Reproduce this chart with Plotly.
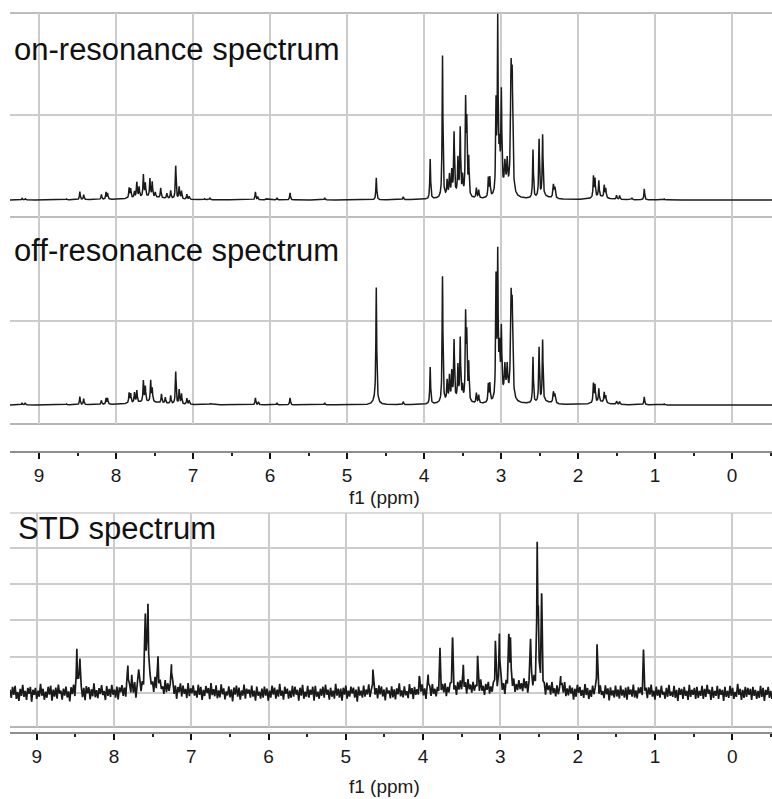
import numpy as np
import plotly.graph_objects as go

W, H = 772, 799
FONT = "Liberation Sans, Arial, sans-serif"

# ---------------- data ----------------
# on-resonance spectrum: peak positions (ppm), heights (px units above baseline), half-widths (ppm)
on_ppm = [9.22, 9.18, 8.64, 8.47, 8.42, 8.19, 8.13, 8.11, 7.83, 7.81,
          7.76, 7.73, 7.70, 7.645, 7.62, 7.56, 7.53, 7.49, 7.42, 7.34,
          7.29, 7.225, 7.18, 7.15, 7.08, 7.05, 6.85, 6.78, 6.19, 6.16,
          6.05, 5.91, 5.74, 5.29, 4.62, 4.27, 3.92, 3.76, 3.70, 3.67,
          3.64, 3.61, 3.56, 3.53, 3.50, 3.46, 3.445, 3.42, 3.32, 3.29,
          3.165, 3.145, 3.065, 3.043, 3.02, 2.996, 2.95, 2.92, 2.87, 2.855,
          2.585, 2.506, 2.46, 2.32, 2.30, 1.80, 1.78, 1.73, 1.66, 1.64,
          1.50, 1.46, 1.30, 1.14, 0.88,
          7.60, 3.60, 2.95, 2.45, 1.72]
on_height = [1.5, 1.5, 1, 8, 5, 5, 7, 6, 10, 9,
             6, 15, 10, 22, 13, 18, 15, 5, 10, 5,
             8, 33, 12, 8, 5, 3, 1, 1.5, 8, 3,
             1, 2, 7, 2, 22, 3, 40, 142, 15, 20,
             23, 61, 35, 66, 18, 91, 68, 37, 10, 8,
             19, 19, 87, 169, 40, 97, 25, 28, 108, 100,
             48, 57, 61, 13, 10, 21, 18, 16, 12, 9,
             4, 4, 2, 11, 1,
             3, 5, 8, 3, 3]
on_width = [0.006, 0.006, 0.006, 0.006, 0.006, 0.006, 0.006, 0.006, 0.006, 0.006,
            0.006, 0.006, 0.006, 0.006, 0.006, 0.006, 0.006, 0.006, 0.006, 0.006,
            0.006, 0.006, 0.006, 0.006, 0.006, 0.006, 0.006, 0.006, 0.006, 0.006,
            0.006, 0.006, 0.006, 0.006, 0.006, 0.006, 0.006, 0.006, 0.006, 0.006,
            0.006, 0.006, 0.006, 0.006, 0.006, 0.006, 0.006, 0.006, 0.006, 0.006,
            0.006, 0.006, 0.006, 0.006, 0.008, 0.007, 0.008, 0.008, 0.009, 0.009,
            0.006, 0.006, 0.006, 0.008, 0.008, 0.006, 0.006, 0.006, 0.006, 0.006,
            0.006, 0.006, 0.006, 0.006, 0.006,
            0.25, 0.12, 0.08, 0.10, 0.10]

# off-resonance spectrum
off_ppm = [9.22, 9.18, 8.64, 8.47, 8.42, 8.19, 8.13, 8.11, 7.83, 7.81,
           7.76, 7.73, 7.645, 7.62, 7.55, 7.53, 7.41, 7.36, 7.29, 7.225,
           7.18, 7.15, 7.08, 7.05, 6.78, 6.19, 6.15, 5.91, 5.74, 5.29,
           4.62, 4.27, 3.92, 3.76, 3.70, 3.67, 3.64, 3.61, 3.56, 3.53,
           3.50, 3.46, 3.445, 3.42, 3.32, 3.29, 3.165, 3.145, 3.065, 3.043,
           3.02, 2.996, 2.95, 2.92, 2.87, 2.855, 2.585, 2.506, 2.46, 2.32,
           2.30, 1.80, 1.78, 1.73, 1.66, 1.64, 1.50, 1.46, 1.14, 0.88,
           4.63, 7.60, 3.60, 2.95, 2.45, 1.72]
off_height = [2, 2, 1, 8, 6, 4, 6, 6, 10, 9,
              10, 12, 21, 15, 21, 13, 9, 6, 8, 32,
              14, 10, 6, 4, 1, 7, 3, 2, 7, 2,
              112, 3, 37, 126, 20, 24, 27, 58, 33, 61,
              13, 83, 61, 37, 10, 8, 18, 18, 118, 139,
              45, 65, 28, 28, 89, 80, 46, 54, 61, 11,
              8, 19, 17, 13, 10, 7, 3, 3, 8, 1,
              6, 3, 5, 8, 3, 3]
off_width = [0.006, 0.006, 0.006, 0.006, 0.006, 0.006, 0.006, 0.006, 0.006, 0.006,
             0.006, 0.006, 0.006, 0.006, 0.006, 0.006, 0.006, 0.006, 0.006, 0.006,
             0.006, 0.006, 0.006, 0.006, 0.006, 0.006, 0.006, 0.006, 0.006, 0.006,
             0.006, 0.006, 0.006, 0.006, 0.006, 0.006, 0.006, 0.006, 0.006, 0.006,
             0.006, 0.006, 0.006, 0.006, 0.006, 0.006, 0.006, 0.006, 0.006, 0.006,
             0.008, 0.007, 0.008, 0.008, 0.009, 0.009, 0.006, 0.006, 0.006, 0.008,
             0.008, 0.006, 0.006, 0.006, 0.006, 0.006, 0.006, 0.006, 0.006, 0.006,
             0.03, 0.25, 0.12, 0.08, 0.10, 0.10]

# STD spectrum
std_ppm = [8.48, 8.44, 7.82, 7.77, 7.68, 7.594, 7.56, 7.43, 7.256, 4.65,
           4.05, 3.935, 3.78, 3.62, 3.48, 3.295, 3.065, 3.013, 2.89, 2.87,
           2.61, 2.524, 2.51, 2.467, 2.22, 1.75, 1.15,
           7.45, 3.50, 2.75]
std_height = [43, 33, 25, 15, 19, 70, 80, 31, 25, 23,
              16, 17, 38, 51, 22, 33, 47, 54, 49, 45,
              47, 136, 60, 93, 15, 48, 40,
              5, 5, 7]
std_width = [0.006, 0.006, 0.006, 0.006, 0.006, 0.009, 0.009, 0.007, 0.006, 0.006,
             0.006, 0.006, 0.006, 0.006, 0.006, 0.006, 0.006, 0.006, 0.006, 0.006,
             0.006, 0.006, 0.006, 0.006, 0.006, 0.006, 0.006,
             0.30, 0.20, 0.30]
# baseline noise of the STD spectrum (px units), left to right
std_noise = [
    3, -5, 6, -2, 7, -6, 1, -8, 4, -3, 8, -4, 2, -7, 5, -1, 6, -9, 3, -2,
    5, -6, 2, -4, 9, -3, 4, -7, 1, -5, 6, -2, 7, -8, 3, -4, 5, -6, 8, -1,
    2, -7, 4, -3, 6, -5, 1, -9, 5, -2, 7, -6, 3, -4, 8, -3, 2, -6, 4, -8,
    6, -1, 5, -7, 3, -4, 9, -5, 2, -6, 4, -2, 7, -3, 1, -8, 6, -4, 3, -5,
    7, -3, 2, -6, 5, -8, 4, -1, 6, -5, 3, -7, 8, -2, 4, -6, 1, -4, 7, -9,
    4, -2, 6, -5, 3, -7, 7, -3, 2, -8, 5, -1, 4, -6, 9, -4, 3, -5, 6, -2,
    1, -6, 8, -4, 5, -3, 2, -7, 6, -5, 4, -9, 3, -2, 7, -6, 5, -3, 2, -7,
    8, -5, 3, -2, 6, -4, 1, -6, 7, -3, 5, -8, 2, -4, 6, -1, 4, -7, 9, -3,
    3, -4, 7, -6, 2, -5, 8, -2, 4, -7, 1, -3, 6, -5, 3, -9, 5, -2, 7, -4,
    5, -7, 2, -3, 8, -6, 4, -1, 3, -5, 7, -4, 2, -8, 6, -3, 1, -6, 4, -5,
    6, -3, 4, -8, 2, -5, 7, -2, 5, -6, 3, -4, 9, -3, 2, -7, 6, -1, 4, -6,
    2, -5, 7, -4, 6, -2, 3, -8, 5, -3, 8, -6, 1, -4, 7, -5, 3, -2, 6, -8,
    7, -4, 1, -6, 4, -3, 6, -5, 8, -2, 3, -7, 5, -4, 2, -6, 9, -3, 4, -5,
    4, -8, 5, -2, 7, -6, 2, -4, 6, -1, 5, -5, 3, -9, 6, -3, 2, -5, 7, -4,
    3, -2, 8, -5, 1, -7, 5, -3, 4, -6, 7, -2, 6, -4, 3, -8, 5, -1, 2, -6,
    6, -5, 3, -7, 4, -2, 9, -4, 2, -5, 6, -3, 1, -6, 8, -2, 4, -7, 5, -3,
    2, -6, 5, -1, 7, -4, 3, -8, 6, -2, 4, -5, 7, -3, 2, -6, 3, -4, 8, -5,
    5, -3, 6, -7, 2, -4, 4, -2, 7, -6, 1, -8, 5, -3, 6, -4, 2, -5, 4, -7,
    8, -2, 3, -5, 6, -3, 2, -7, 4, -4, 9, -2, 3, -6, 5, -1, 7, -5, 2, -4,
    4, -6, 7, -3, 1, -5, 6, -4, 3, -8, 5, -2, 8, -5, 4, -3, 6, -7, 1, -5,
    5, -4, 2, -6, 7, -3, 4, -8, 1, -5, 6, -2, 8, -4, 3, -6, 5, -3, 7, -2,
    3, -7, 6, -1, 4, -5, 8, -3, 2, -6, 5, -4, 1, -7, 6, -2, 9, -5, 3, -4,
    6, -2, 4, -8, 3, -5, 7, -1, 5, -4, 2, -6, 8, -3, 4, -7, 2, -5, 6, -3,
    2, -5, 8, -4, 6, -3, 1, -6, 7, -2, 4, -8, 5, -3, 2, -5, 7, -4, 3, -6,
    7, -3, 3, -5, 5, -7, 6, -2, 3, -4, 8, -5, 2, -6, 5, -1, 4, -8, 6, -2,
    4, -6, 5, -2, 8, -4, 2, -7, 6, -3, 3, -5, 7, -2, 1, -6, 5, -4, 8, -3,
    1, -4, 7, -5, 3, -8, 5, -2, 4, -6, 6, -3, 2, -7, 8, -4, 3, -2, 5, -6,
    6, -5, 2, -3, 7, -6, 4, -4, 8, -1, 3, -7, 6, -5, 2, -3, 7, -6, 4, -2,
    3, -8, 6, -4, 2, -5, 7, -3, 5, -6, 1, -4, 9, -2, 4, -7, 3, -5, 6, -4,
    5, -2, 4, -7, 6, -3, 3, -6, 2, -5, 7, -4, 5, -8, 3, -2, 6, -5, 2, -6,
]

x_ticks = [9, 8, 7, 6, 5, 4, 3, 2, 1, 0]
x_label = "f1 (ppm)"
titles = ["on-resonance spectrum", "off-resonance spectrum", "STD spectrum"]

# ---------------- helpers ----------------
def lorentz(x, centers, heights, widths):
    assert len(centers) == len(heights) == len(widths)
    y = np.zeros_like(x, dtype=float)
    for c, h, w in zip(centers, heights, widths):
        y += h / (1.0 + ((x - c) / w) ** 2)
    return y

TOP_RANGE = [9.377, -0.519]
STD_RANGE = [9.345, -0.514]

xf = np.unique(np.concatenate([np.linspace(TOP_RANGE[1], TOP_RANGE[0], 4000), on_ppm, off_ppm]))[::-1]
y_on = lorentz(xf, on_ppm, on_height, on_width)
y_off = lorentz(xf, off_ppm, off_height, off_width)

xg = np.linspace(STD_RANGE[0], STD_RANGE[1], len(std_noise))
xs = np.concatenate([xg, std_ppm])
ns = np.concatenate([np.array(std_noise, float), np.zeros(len(std_ppm))])
order = np.argsort(-xs)
xs, ns = xs[order], ns[order]
y_std = ns + lorentz(xs, std_ppm, std_height, std_width)

def py(px):
    return 1 - px / H

def px_x(px):
    return px / W

GRID = "#cccccc"
LINE = "#1a1a1a"

fig = go.Figure()
fig.add_trace(go.Scatter(x=xf, y=y_on, mode="lines", line=dict(color=LINE, width=1.5),
                         xaxis="x", yaxis="y", hoverinfo="skip"))
fig.add_trace(go.Scatter(x=xf, y=y_off, mode="lines", line=dict(color=LINE, width=1.5),
                         xaxis="x", yaxis="y2", hoverinfo="skip"))
fig.add_trace(go.Scatter(x=xs, y=y_std, mode="lines", line=dict(color=LINE, width=1.7),
                         xaxis="x2", yaxis="y3", hoverinfo="skip"))

xdom = [px_x(10), 1.0]
xcommon = dict(
    domain=xdom, showgrid=True, gridcolor=GRID, gridwidth=2,
    tickmode="array", tickvals=x_ticks, ticktext=[str(t) for t in x_ticks],
    ticks="outside", ticklen=6, tickwidth=2, tickcolor="#111111",
    showline=True, linecolor="#8e8e8e", linewidth=2, zeroline=False,
    tickfont=dict(family=FONT, size=19, color="#1a1a1a"),
    minor=dict(dtick=0.5, tick0=0, ticks="outside", ticklen=3, tickwidth=2,
               tickcolor="#222222", showgrid=False),
    anchor="free",
)
ycommon = dict(showticklabels=False, ticks="", showline=False, zeroline=False,
               showgrid=True, gridcolor=GRID, gridwidth=2)

fig.update_layout(
    width=W, height=H, margin=dict(l=0, r=0, t=0, b=0),
    paper_bgcolor="white", plot_bgcolor="white", showlegend=False,
    xaxis=dict(range=TOP_RANGE, position=py(452), **xcommon),
    xaxis2=dict(range=STD_RANGE, position=py(733), **xcommon),
    yaxis=dict(domain=[py(217), py(13)], range=[-17, 187], anchor="x",
               tickmode="array", tickvals=[85], **ycommon),
    yaxis2=dict(domain=[py(424), py(217)], range=[-19, 188], anchor="x",
                tickmode="array", tickvals=[84], **ycommon),
    yaxis3=dict(domain=[py(727), py(513)], range=[-34, 180], anchor="x2",
                tickmode="array", tickvals=[0, 36.3, 72.6, 108.9, 145.2], **ycommon),
)

shapes = []
for yref, yv, col in [("y domain", 1, "#bdbdbd"), ("y domain", 0, "#bdbdbd"),
                      ("y2 domain", 0, "#b5b5b5"),
                      ("y3 domain", 1, "#dadada"), ("y3 domain", 0, "#b5b5b5")]:
    shapes.append(dict(type="line", xref="paper", yref=yref, x0=xdom[0], x1=1,
                       y0=yv, y1=yv, line=dict(color=col, width=2), layer="below"))
fig.update_layout(shapes=shapes)

ann = []
for txt, xp, yp in [(titles[0], 12, 49), (titles[1], 12, 250), (titles[2], 16, 528)]:
    ann.append(dict(text=txt, x=px_x(xp), y=py(yp), xref="paper", yref="paper",
                    xanchor="left", yanchor="middle", showarrow=False,
                    font=dict(family=FONT, size=31, color="#111111")))
for yp in [497, 786]:
    ann.append(dict(text=x_label, x=px_x(384), y=py(yp), xref="paper", yref="paper",
                    xanchor="center", yanchor="middle", showarrow=False,
                    font=dict(family=FONT, size=19, color="#1a1a1a")))
fig.update_layout(annotations=ann)

fig.write_html("out.html", config={"displayModeBar": False},
               post_script="document.body.style.margin='0px';document.body.style.overflow='hidden';")
